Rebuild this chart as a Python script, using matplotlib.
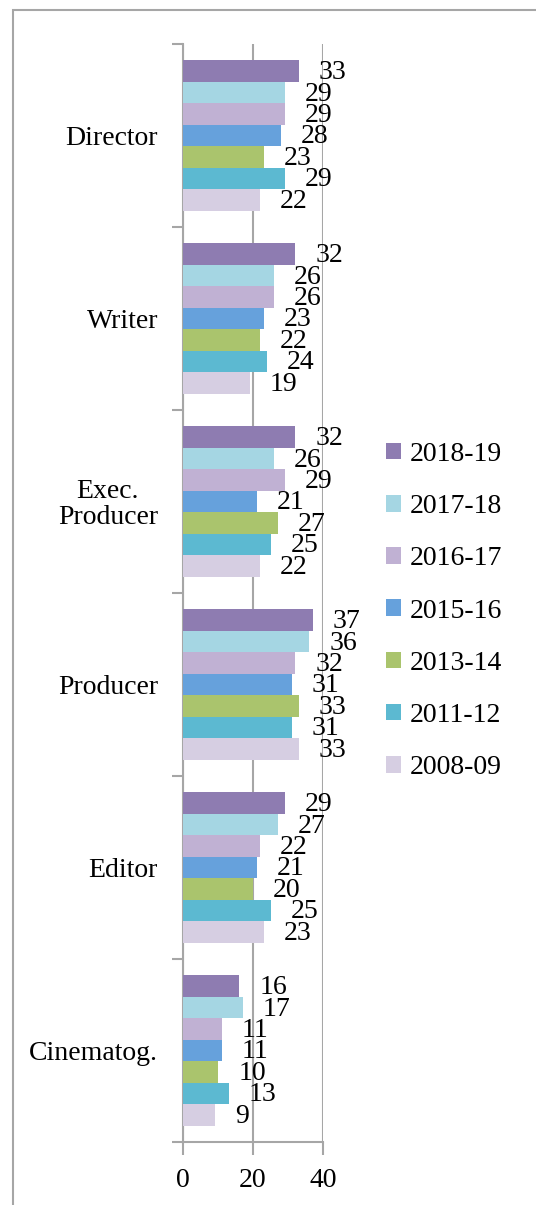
import numpy as np
import matplotlib.pyplot as plt
from matplotlib.patches import Patch, Rectangle

plt.rcParams['font.family'] = ['Liberation Serif', 'DejaVu Serif']

# Data
categories = ['Director', 'Writer', 'Exec.\nProducer', 'Producer', 'Editor', 'Cinematog.']
seasons = ['2018-19', '2017-18', '2016-17', '2015-16', '2013-14', '2011-12', '2008-09']
s2018_19 = [33, 32, 32, 37, 29, 16]
s2017_18 = [29, 26, 26, 36, 27, 17]
s2016_17 = [29, 26, 29, 32, 22, 11]
s2015_16 = [28, 23, 21, 31, 21, 11]
s2013_14 = [23, 22, 27, 33, 20, 10]
s2011_12 = [29, 24, 25, 31, 25, 13]
s2008_09 = [22, 19, 22, 33, 23, 9]
series = [s2018_19, s2017_18, s2016_17, s2015_16, s2013_14, s2011_12, s2008_09]
colors = ['#8E7CB1', '#A5D6E3', '#C0B1D3', '#66A1DC', '#AAC46D', '#5CB9D1', '#D6CEE2']

W, H = 536, 1205
fig = plt.figure(figsize=(W / 100, H / 100), dpi=100)

# outer frame
fig.patches.append(Rectangle((13 / W, -0.05), 1.2, (H - 10) / H + 0.05,
                             transform=fig.transFigure, fill=False,
                             edgecolor='#A6A6A6', linewidth=1.5))

ax = fig.add_axes([183 / W, (H - 1142) / H, 140 / W, 1098 / H])

grey = '#A6A6A6'
fs = 20
n = len(series)
bh = 0.82 / n
y = np.arange(len(categories))

for j, (vals, c, lab) in enumerate(zip(series, colors, seasons)):
    pos = y - 0.41 + bh * (j + 0.5)
    ax.barh(pos, vals, height=bh, color=c, edgecolor='none', label=lab, zorder=3)
    for p, v in zip(pos, vals):
        ax.annotate(str(v), (v, p), xytext=(14.5, -1), textcoords='offset points',
                    ha='left', va='center', fontsize=fs, zorder=4,
                    annotation_clip=False)

ax.set_xlim(0, 40)
ax.set_ylim(len(categories) - 0.5, -0.5)
ax.set_xticks([0, 20, 40])
ax.set_yticks(y)
ax.set_yticklabels(categories, fontsize=fs, multialignment='center', linespacing=1.05)
ax.set_yticks(np.arange(-0.5, len(categories)), minor=True)
ax.tick_params(axis='y', which='major', length=0, pad=18)
ax.tick_params(axis='y', which='minor', length=8, color=grey, width=1.5)
ax.tick_params(axis='x', length=9, color=grey, width=1.5, labelsize=fs, pad=10)
ax.xaxis.grid(True, color=grey, linewidth=1.5, zorder=0)
for s in ['top', 'right']:
    ax.spines[s].set_visible(False)
for s in ['left', 'bottom']:
    ax.spines[s].set_color(grey)
    ax.spines[s].set_linewidth(1.5)

handles = [Patch(facecolor=c, edgecolor='none') for c in colors]
fig.legend(handles, seasons, loc='center left', bbox_to_anchor=(386 / W, (H - 611) / H),
           frameon=False, fontsize=fs, handlelength=0.55, handleheight=0.55,
           handletextpad=0.3, labelspacing=0.98, borderpad=0, borderaxespad=0)

plt.savefig('out.png', dpi=100)
plt.close()
